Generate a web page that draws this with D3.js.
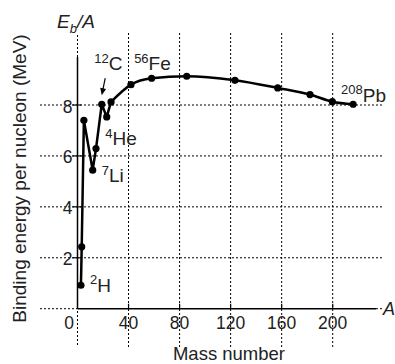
<!DOCTYPE html>
<html>
<head>
<meta charset="utf-8">
<script src="https://cdn.jsdelivr.net/npm/d3@7/dist/d3.min.js"></script>
<style>
  html, body { margin: 0; padding: 0; background: #fff; }
  svg { display: block; font-family: "Liberation Sans", Arial, Helvetica, sans-serif; }
</style>
</head>
<body>
<svg id="chart" width="395" height="364"></svg>
<script>
// Binding energy per nucleon vs. mass number
const massNumber = [2.7, 3.3, 5, 11.9, 14.5, 19, 22.9, 26.3, 41.9, 58.1, 85.6, 123.4, 156.9, 182.2, 199.7, 216];
const bindingEnergy = [0.92, 2.43, 7.4, 5.44, 6.29, 8.03, 7.53, 8.12, 8.8, 9.05, 9.13, 8.97, 8.67, 8.41, 8.13, 8.03];
const xTicks = [0, 40, 80, 120, 160, 200];
const yTicks = [2, 4, 6, 8];

// Labelled nuclides: index into the series, mass-number superscript, element symbol
const nuclideIndex = [0, 3, 6, 5, 9, 15];
const nuclideMass = ["2", "7", "4", "12", "56", "208"];
const nuclideSymbol = ["H", "Li", "He", "C", "Fe", "Pb"];

const svg = d3.select("#chart");
const x = d3.scaleLinear().domain([0, 200]).range([77.5, 332.7]);
const y = d3.scaleLinear().domain([0, 8]).range([308.7, 105]);

const dotted = { stroke: "#000", "stroke-width": 1, "stroke-dasharray": "2,2" };
function applyAttrs(sel, attrs) { for (const k in attrs) sel.attr(k, attrs[k]); return sel; }

// Dotted grid
const grid = svg.append("g");
yTicks.forEach(v => {
  applyAttrs(grid.append("line"), dotted)
    .attr("x1", 40).attr("x2", 382).attr("y1", y(v)).attr("y2", y(v));
});
applyAttrs(grid.append("line"), dotted)
  .attr("x1", 40).attr("x2", x(0)).attr("y1", y(0)).attr("y2", y(0));
applyAttrs(grid.append("line"), dotted)
  .attr("x1", x(0)).attr("x2", x(0)).attr("y1", 35).attr("y2", 347);
xTicks.filter(v => v > 0).forEach(v => {
  applyAttrs(grid.append("line"), dotted)
    .attr("x1", x(v)).attr("x2", x(v)).attr("y1", 33).attr("y2", 347);
});
// dotted extension of the x axis
applyAttrs(grid.append("line"), dotted)
  .attr("x1", 376).attr("x2", 382).attr("y1", y(0)).attr("y2", y(0));

// Axes lines
svg.append("line").attr("x1", x(0)).attr("x2", x(0)).attr("y1", 57).attr("y2", y(0))
  .attr("stroke", "#000").attr("stroke-width", 1.5);
svg.append("line").attr("x1", x(0)).attr("x2", 376).attr("y1", y(0)).attr("y2", y(0))
  .attr("stroke", "#000").attr("stroke-width", 1.5);

// Y axis ticks and labels
const yAxis = svg.append("g");
yTicks.forEach(v => {
  yAxis.append("line").attr("x1", x(0) - 5).attr("x2", x(0) + 4)
    .attr("y1", y(v)).attr("y2", y(v)).attr("stroke", "#000").attr("stroke-width", 1.2);
  yAxis.append("text").attr("x", x(0) - 5).attr("y", y(v) + 7.5)
    .attr("text-anchor", "end").attr("font-size", 17.5).attr("fill", "#222").text(v);
});

// X axis ticks and labels
const xAxis = svg.append("g");
xTicks.forEach(v => {
  if (v > 0) {
    xAxis.append("line").attr("x1", x(v)).attr("x2", x(v))
      .attr("y1", y(0) - 5).attr("y2", y(0)).attr("stroke", "#000").attr("stroke-width", 1.2);
  }
  xAxis.append("text").attr("x", v === 0 ? x(v) - 8.5 : x(v)).attr("y", 329)
    .attr("text-anchor", "middle").attr("font-size", 17.5).attr("fill", "#222").text(v);
});

// Axis titles
svg.append("text").attr("x", 229).attr("y", 360).attr("text-anchor", "middle")
  .attr("font-size", 18.5).attr("fill", "#222").text("Mass number");
svg.append("text").attr("transform", "translate(25.5,178.5) rotate(-90)")
  .attr("text-anchor", "middle").attr("font-size", 19).attr("fill", "#222")
  .text("Binding energy per nucleon (MeV)");
svg.append("text").attr("x", 383).attr("y", 314.5).attr("font-size", 18)
  .attr("font-style", "italic").attr("fill", "#222").text("A");
const yt = svg.append("text").attr("x", 57).attr("y", 28).attr("font-size", 19)
  .attr("font-style", "italic").attr("fill", "#222");
yt.append("tspan").text("E");
yt.append("tspan").attr("font-size", 13).attr("dy", 5).text("b");
yt.append("tspan").attr("dy", -5).text("/A");

// Binding energy curve: straight segments for the light nuclei, smooth beyond
const pts = massNumber.map((a, i) => [a, bindingEnergy[i]]);
const light = pts.slice(0, 8);
const heavy = pts.slice(7);
svg.append("path").attr("d", d3.line().x(d => x(d[0])).y(d => y(d[1]))(light))
  .attr("fill", "none").attr("stroke", "#000").attr("stroke-width", 2.5)
  .attr("stroke-linejoin", "round");
svg.append("path").attr("d", d3.line().curve(d3.curveMonotoneX).x(d => x(d[0])).y(d => y(d[1]))(heavy))
  .attr("fill", "none").attr("stroke", "#000").attr("stroke-width", 2.5);
svg.append("g").selectAll("circle").data(pts).join("circle")
  .attr("cx", d => x(d[0])).attr("cy", d => y(d[1])).attr("r", 3.6).attr("fill", "#000");

// Nuclide labels, placed relative to their point
const labelOffset = [[9, 6.5], [9, 12], [-1.5, 28.5], [-7.5, -34], [-17.5, -8], [-12, -2.5]];
nuclideIndex.forEach((idx, k) => {
  const t = svg.append("text")
    .attr("x", x(massNumber[idx]) + labelOffset[k][0])
    .attr("y", y(bindingEnergy[idx]) + labelOffset[k][1])
    .attr("font-size", 19).attr("fill", "#222");
  t.append("tspan").attr("font-size", 13).attr("dy", -7.5).text(nuclideMass[k]);
  t.append("tspan").attr("dy", 7.5).text(nuclideSymbol[k]);
});

// Arrow pointing at carbon-12
const cIdx = 5;
const tipX = x(massNumber[cIdx]), tipY = y(bindingEnergy[cIdx]) - 9;
svg.append("line").attr("x1", tipX + 3.5).attr("y1", tipY - 17).attr("x2", tipX + 0.6).attr("y2", tipY - 3)
  .attr("stroke", "#000").attr("stroke-width", 1.2);
const ang = Math.atan2(17, -3.5);
const hl = 7, hw = 3;
const ux = Math.cos(ang), uy = Math.sin(ang);
svg.append("path")
  .attr("d", `M${tipX},${tipY} L${tipX - ux * hl - uy * hw},${tipY - uy * hl + ux * hw} L${tipX - ux * hl + uy * hw},${tipY - uy * hl - ux * hw} Z`)
  .attr("fill", "#000");
</script>
</body>
</html>
